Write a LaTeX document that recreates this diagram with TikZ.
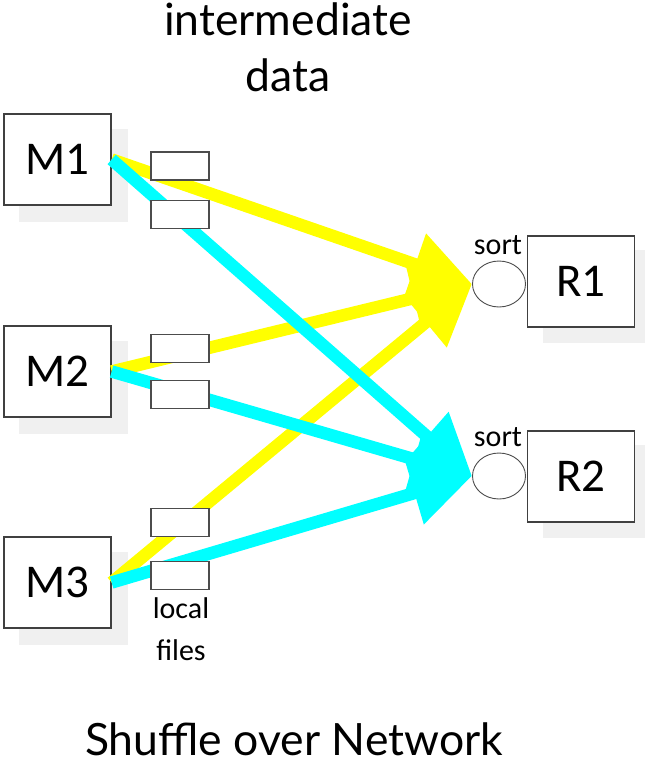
\documentclass[tikz,border=0pt]{standalone}
\usepackage{fontspec}
\setmainfont{Carlito}
\newfontfamily\titlefont{Lato}
\usetikzlibrary{arrows.meta,shapes.geometric}

\definecolor{shadowgray}{HTML}{F0F0F0}
\definecolor{lineyellow}{HTML}{FFFF00}
\definecolor{linecyan}{HTML}{00FFFF}

\begin{document}
\begin{tikzpicture}[x=1pt,y=-1pt]
    \tikzstyle{task}=[rectangle,draw=black!75,line width=1.3pt,fill=white,minimum width=107pt,minimum height=91pt,inner sep=0pt,font=\fontsize{47}{47}\selectfont]
    \tikzstyle{shade}=[rectangle,fill=shadowgray,minimum width=109pt,minimum height=93pt,inner sep=0pt]
    \tikzstyle{file}=[rectangle,draw=black!70,line width=1.3pt,fill=white,minimum width=58pt,minimum height=28pt,inner sep=0pt]
    \tikzstyle{sorter}=[ellipse,draw=black!70,line width=0.9pt,fill=white,minimum width=53pt,minimum height=46pt,inner sep=0pt]
    \tikzstyle{annot}=[font=\fontsize{30}{42}\selectfont,align=center,inner sep=0pt]
    \tikzstyle{heading}=[font=\titlefont\fontsize{44.5}{56}\selectfont,align=center,inner sep=0pt]
    \tikzstyle{flow}=[line width=12.5pt,-{Triangle[length=60pt,width=62pt]}]

    \useasboundingbox (0,0) rectangle (645,764);

    %%% SHADOWS
    \foreach \i/\y in {1/159.5,2/371.5,3/582.5}
        \node[shade] (MS-\i) at (73.5,\y+16) {};
    \foreach \i/\y in {1/281.5,2/476.5}
        \node[shade] (RS-\i) at (597,\y+15) {};

    %%% DRAW THE NODES
    \foreach \i/\y in {1/159.5,2/371.5,3/582.5}
        \node[task] (M-\i) at (57.5,\y) {M\i};
    \foreach \i/\y in {1/281.5,2/476.5}
        \node[task] (R-\i) at (581,\y) {R\i};
    \foreach \i/\y in {1/284,2/476}
        \node[sorter] (S-\i) at (499,\y) {};

    %%% DRAW THE PATHS
    \foreach \source in {1,2,3}
        \draw[flow,lineyellow] (M-\source.east) -- (S-1.west);
    \foreach \source in {1,2,3}
        \draw[flow,linecyan] (M-\source.east) -- (S-2.west);

    %%% LOCAL FILES
    \foreach \name/\y in {1a/166,1b/214.5,2a/348.5,2b/394.5,3a/522.5,3b/575.5}
        \node[file] (F-\name) at (180,\y) {};

    %%% ANOTATE
    \foreach \i/\y in {1/245,2/437}
        \node[annot] (sort-\i) at (498,\y) {sort};
    \node[annot] (local) at (181,629) {local\\files};
    \node[heading,anchor=base] (title) at (288,91) {intermediate\\data};
    \node[heading,anchor=base] (caption) at (294,755) {Shuffle over Network};
\end{tikzpicture}
\end{document}
